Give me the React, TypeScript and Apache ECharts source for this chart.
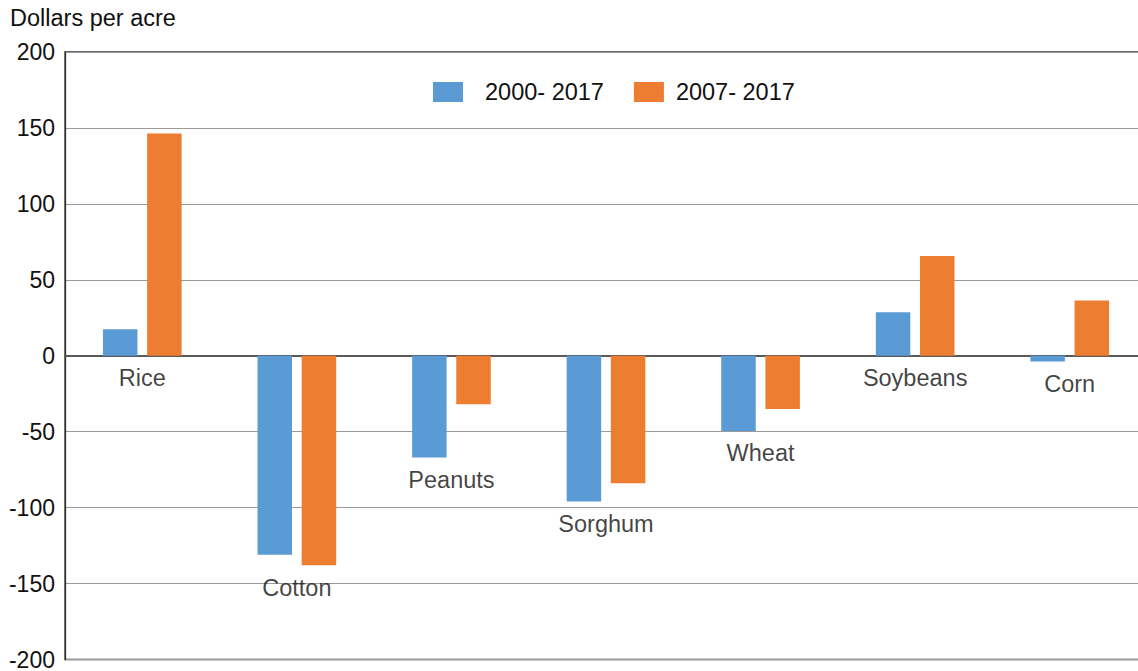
import React, { useEffect, useRef } from "react";
import * as echarts from "echarts";

const categories = ["Rice", "Cotton", "Peanuts", "Sorghum", "Wheat", "Soybeans", "Corn"];
const series2000 = [17.5, -131, -67, -96, -49.5, 28.6, -3.8];
const series2007 = [146.3, -138, -32, -84, -35, 65.6, 36.4];
const seriesNames = ["2000- 2017", "2007- 2017"];
const yTicks = { min: -200, max: 200, interval: 50 };

const FONT = "'Liberation Sans', Arial, Helvetica, sans-serif";
const TXT = "#111111";

export default function App() {
  const ref = useRef<HTMLDivElement>(null);
  useEffect(() => {
    if (!ref.current) return;
    const chart = echarts.init(ref.current, null, { renderer: "svg" });
    const labelPoints = categories.map((c, i) => [i, Math.min(0, series2000[i], series2007[i])]);
    chart.setOption({
      animation: false,
      backgroundColor: "#ffffff",
      textStyle: { fontFamily: FONT },
      title: {
        text: "Dollars per acre",
        left: 5,
        top: 1,
        textStyle: { fontFamily: FONT, fontSize: 23.5, fontWeight: "normal", color: TXT },
      },
      legend: {
        data: [
          { name: seriesNames[0], textStyle: { padding: [0, 0, 0, 17] } },
          { name: seriesNames[1], textStyle: { padding: [0, 0, 0, 7] } },
        ],
        left: 433,
        top: 80,
        padding: 0,
        itemWidth: 30,
        itemHeight: 20,
        itemGap: 30,
        icon: "rect",
        textStyle: { fontFamily: FONT, fontSize: 23.5, color: TXT },
      },
      grid: {
        left: 65,
        top: 52,
        width: 1082,
        height: 608,
        show: true,
        borderColor: "#333333",
        borderWidth: 1.3,
        backgroundColor: "transparent",
      },
      xAxis: {
        type: "category",
        data: categories,
        axisLine: { show: true, onZero: true, lineStyle: { color: "#5a5a5a", width: 2 } },
        axisTick: { show: false },
        axisLabel: { show: false },
        splitLine: { show: false },
      },
      yAxis: {
        type: "value",
        min: yTicks.min,
        max: yTicks.max,
        interval: yTicks.interval,
        axisLine: { show: true, lineStyle: { color: "#333333", width: 1.3 } },
        axisTick: { show: false },
        axisLabel: { fontFamily: FONT, fontSize: 23, color: TXT, margin: 10 },
        splitLine: { show: true, lineStyle: { color: "#9a9a9a", width: 1 } },
      },
      series: [
        {
          name: seriesNames[0],
          type: "bar",
          data: series2000,
          barWidth: 34.5,
          barGap: "28%",
          itemStyle: { color: "#5b9bd5" },
        },
        {
          name: seriesNames[1],
          type: "bar",
          data: series2007,
          barWidth: 34.5,
          itemStyle: { color: "#ed7d31" },
        },
        {
          name: "labels",
          type: "scatter",
          data: labelPoints,
          symbolSize: 1,
          silent: true,
          itemStyle: { color: "transparent" },
          label: {
            show: true,
            position: "bottom",
            distance: 10,
            formatter: (p: any) => categories[p.data[0]],
            fontFamily: FONT,
            fontSize: 23.5,
            color: TXT,
          },
          z: 5,
        },
      ],
    });
    return () => chart.dispose();
  }, []);
  return (
    <div
      style={{
        position: "fixed",
        left: 0,
        top: 0,
        width: 1138,
        height: 671,
        overflow: "hidden",
        background: "#fff",
      }}
    >
      <div ref={ref} style={{ position: "absolute", left: 0, top: 0, width: 1160, height: 671 }} />
    </div>
  );
}
